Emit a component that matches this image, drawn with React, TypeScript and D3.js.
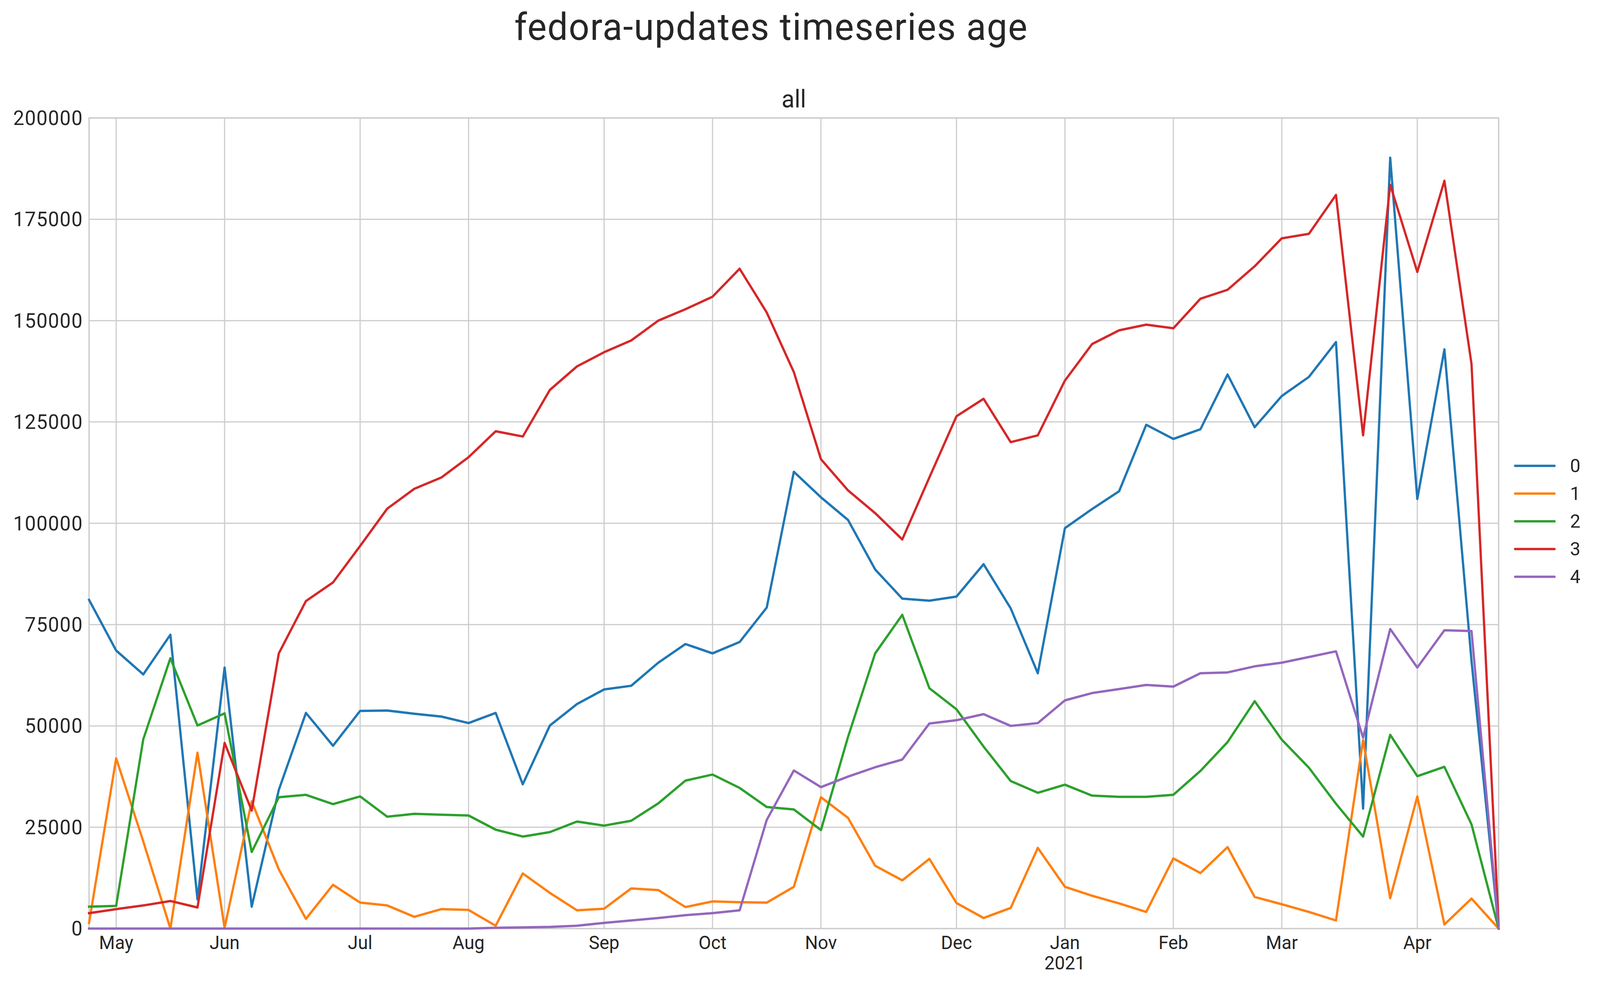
import React from "react";
import * as d3 from "d3";

// ---- data (weekly periods, index 0..52) ----
const weekCount = 53;
const seriesNames = ["0", "1", "2", "3", "4"];
const colors = ["#1f77b4", "#ff7f0e", "#2ca02c", "#d62728", "#9467bd"];

const s0 = [81100, 68600, 62700, 72500, 7200, 64400, 5400, 34200, 53200, 45100, 53700, 53800, 53000, 52300, 50700, 53200, 35600, 50100, 55400, 59000, 59900, 65600, 70200, 67900, 70700, 79200, 112700, 106400, 100800, 88600, 81400, 80900, 81900, 89900, 79000, 63000, 98800, 103500, 107900, 124300, 120800, 123200, 136700, 123700, 131400, 136100, 144700, 29600, 190200, 106000, 142900, 66000, 0];
const s1 = [1400, 42000, 21500, 0, 43400, 200, 31400, 14600, 2400, 10800, 6400, 5700, 2900, 4800, 4600, 700, 13600, 8800, 4500, 4900, 9900, 9500, 5300, 6700, 6500, 6400, 10300, 32400, 27300, 15500, 11900, 17200, 6300, 2600, 5100, 19900, 10300, 8100, 6200, 4100, 17300, 13700, 20100, 7800, 6000, 4100, 2000, 46500, 7500, 32600, 1000, 7400, 0];
const s2 = [5400, 5600, 46700, 66700, 50100, 53100, 18900, 32400, 33000, 30700, 32600, 27600, 28300, 28100, 27900, 24400, 22700, 23800, 26400, 25400, 26600, 30900, 36500, 38000, 34700, 30000, 29400, 24300, 47300, 67900, 77400, 59300, 54100, 44900, 36400, 33500, 35500, 32800, 32500, 32500, 33000, 38900, 46000, 56100, 46600, 39700, 30800, 22700, 47800, 37600, 39900, 25700, 0];
const s3 = [3800, 4800, 5700, 6800, 5200, 45800, 29100, 67900, 80800, 85400, 94400, 103600, 108500, 111300, 116300, 122700, 121400, 132900, 138700, 142200, 145100, 150000, 152800, 155900, 162800, 152000, 137300, 115800, 108100, 102500, 96000, 111300, 126400, 130700, 120000, 121700, 135200, 144200, 147600, 149000, 148100, 155400, 157600, 163400, 170300, 171400, 181000, 121700, 183500, 162000, 184500, 139300, 800];
const s4 = [0, 0, 0, 0, 0, 0, 0, 0, 0, 0, 0, 0, 0, 0, 0, 200, 300, 400, 700, 1400, 2000, 2600, 3300, 3800, 4500, 26800, 39000, 34900, 37500, 39800, 41700, 50600, 51400, 52900, 50000, 50700, 56300, 58100, 59100, 60100, 59700, 63000, 63200, 64700, 65600, 67000, 68400, 47100, 73900, 64400, 73600, 73400, 0];
const seriesValues = [s0, s1, s2, s3, s4];

const monthTickIndex = [1, 5, 10, 14, 19, 23, 27, 32, 36, 40, 44, 49];
const monthTickLabels = ["May", "Jun", "Jul", "Aug", "Sep", "Oct", "Nov", "Dec", "Jan", "Feb", "Mar", "Apr"];
const yearLabelIndex = 36;
const yearLabel = "2021";
const yTicks = [0, 25000, 50000, 75000, 100000, 125000, 150000, 175000, 200000];

const titleText = "fedora-updates timeseries age";
const subtitleText = "all";

// ---- layout ----
const W = 4222;
const H = 2522;
const M = { left: 235, right: 3954.5, top: 302, bottom: 2377.5 };
const FONT = "Roboto, 'Noto Sans', sans-serif";
const TEXT = "#262626";
const GRID = "#cccccc";

export default function App() {
  const x = d3.scaleLinear().domain([0, weekCount - 1]).range([M.left, M.right]);
  const y = d3.scaleLinear().domain([0, 200000]).range([M.bottom, M.top]);
  const line = d3
    .line<number>()
    .x((_, i) => x(i))
    .y((d) => y(d));

  return (
    <svg
      viewBox={`0 0 ${W} ${H}`}
      preserveAspectRatio="none"
      style={{ position: "fixed", left: 0, top: 0, width: "100vw", height: "100vh", background: "#fff", display: "block" }}
      fontFamily={FONT}
    >
      <rect x={0} y={0} width={W} height={H} fill="#fff" />
      <text x={2035} y={101.7} textAnchor="middle" fontSize={96} letterSpacing={2} fill={TEXT}>
        {titleText}
      </text>
      <text x={(M.left + M.right) / 2} y={275} textAnchor="middle" fontSize={63} fill={TEXT}>
        {subtitleText}
      </text>

      {/* grid */}
      <g stroke={GRID} strokeWidth={3}>
        {yTicks.map((t) => (
          <line key={"gy" + t} x1={M.left} x2={M.right} y1={y(t)} y2={y(t)} />
        ))}
        {monthTickIndex.map((t) => (
          <line key={"gx" + t} x1={x(t)} x2={x(t)} y1={M.top} y2={M.bottom} />
        ))}
      </g>
      {/* spines */}
      <rect
        x={M.left}
        y={M.top}
        width={M.right - M.left}
        height={M.bottom - M.top}
        fill="none"
        stroke={GRID}
        strokeWidth={3.5}
      />

      {/* y tick labels */}
      <g fontSize={52} fill={TEXT} textAnchor="end" letterSpacing={1.5}>
        {yTicks.map((t) => (
          <text key={"ty" + t} x={219} y={y(t)} dominantBaseline="central">
            {d3.format("d")(t)}
          </text>
        ))}
      </g>
      {/* x tick labels */}
      <g fontSize={48} fill={TEXT} textAnchor="middle">
        {monthTickIndex.map((t, k) => (
          <text key={"tx" + t} x={x(t)} y={2430}>
            {monthTickLabels[k]}
          </text>
        ))}
        <text x={x(yearLabelIndex)} y={2482}>
          {yearLabel}
        </text>
      </g>

      {/* series */}
      <g fill="none" strokeWidth={6} strokeLinejoin="round" strokeLinecap="square">
        {seriesValues.map((vals, k) => (
          <path key={"s" + k} d={line(vals) || ""} stroke={colors[k]} />
        ))}
      </g>

      {/* legend */}
      <g>
        {seriesNames.map((n, k) => {
          const ly = 1192.7 + k * 71;
          return (
            <g key={"lg" + n}>
              <line x1={3998} x2={4102} y1={ly} y2={ly} stroke={colors[k]} strokeWidth={6} strokeLinecap="round" />
              <text x={4143} y={ly} dominantBaseline="central" fontSize={49} fill={TEXT}>
                {n}
              </text>
            </g>
          );
        })}
      </g>
    </svg>
  );
}
